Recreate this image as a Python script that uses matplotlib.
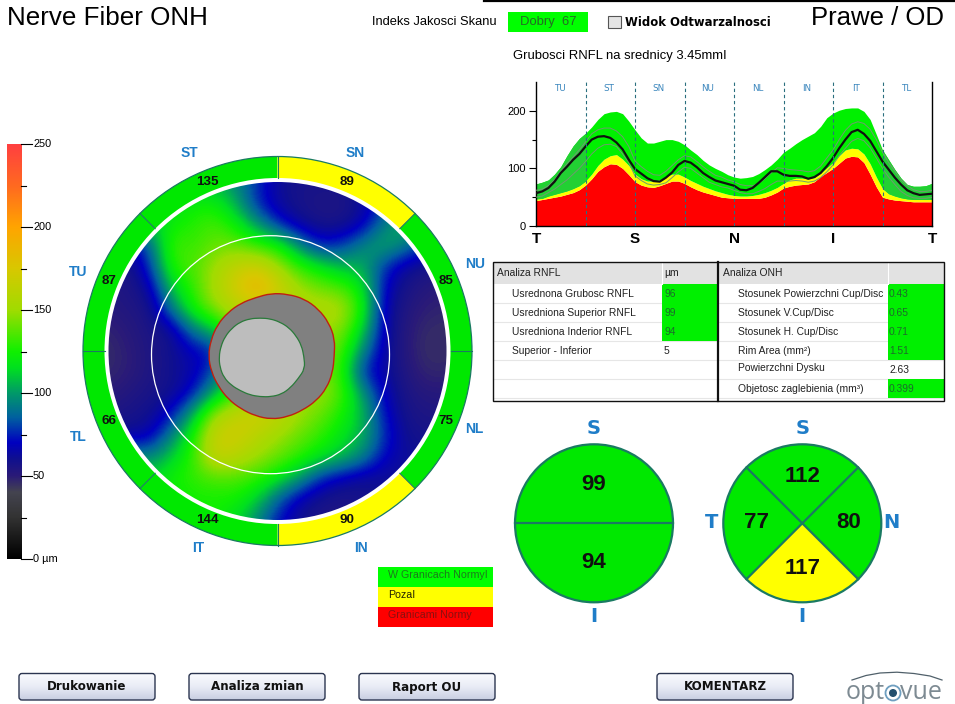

import numpy as np
import matplotlib
matplotlib.use("Agg")
import matplotlib.pyplot as plt
from matplotlib.colors import LinearSegmentedColormap
from matplotlib.patches import Rectangle, Circle, Wedge, FancyBboxPatch, PathPatch
from matplotlib.path import Path

# ---------- data ----------
sector_names = ["TU", "ST", "SN", "NU", "NL", "IN", "IT", "TL"]
sector_values = [87, 135, 89, 85, 75, 90, 144, 66]
sector_status = ["g", "g", "y", "g", "g", "y", "g", "g"]
outer_labels = {"ST": (189, 153), "SN": (355, 153), "TU": (78, 272), "NU": (475, 264),
                "TL": (78, 437), "NL": (474, 429), "IT": (198, 548), "IN": (361, 548)}

red_top = [44,46,48,50,52,55,58,63,71,82,95,103,108,107,100,89,77,71,68,67,70,74,78,78,74,68,63,59,56,53,50,49,48,48,48,48,48,50,54,59,66,69,71,72,73,77,86,93,100,109,118,121,120,110,90,68,50,47,45,44,43,42,42,42,42]
yellow_top = [47,48,52,55,58,61,65,70,78,90,105,116,122,124,116,105,90,82,78,78,80,86,90,90,85,79,74,69,65,61,58,55,53,52,52,53,55,58,62,67,74,80,83,83,82,84,92,101,110,122,132,135,134,125,108,85,65,56,52,49,47,46,46,46,46]
green_top = [73,76,80,90,103,122,139,152,161,172,185,195,198,199,195,182,167,153,144,144,147,150,150,147,141,132,124,114,106,100,95,89,85,83,84,86,91,98,106,116,128,135,143,150,156,162,173,188,196,201,204,205,205,199,185,159,132,115,98,83,72,69,69,70,74]
patient = [57,60,66,77,92,103,115,125,138,150,155,156,153,145,133,115,99,91,83,78,77,84,93,106,113,110,102,92,85,79,76,73,70,63,62,66,75,85,95,95,89,87,87,86,82,85,92,104,118,135,150,163,167,160,148,130,112,98,84,72,62,57,54,55,56]
upper_rep = [62,64,70,80,95,108,120,132,146,160,167,170,170,165,155,138,113,103,95,89,88,95,105,115,122,120,112,103,95,88,85,80,77,72,70,70,74,82,92,101,100,98,97,96,94,96,104,118,132,150,166,177,181,178,168,150,128,110,95,80,70,63,60,60,62]
lower_rep = [50,52,58,64,72,80,90,100,112,125,135,141,142,138,125,110,87,79,73,71,72,75,84,94,102,100,92,84,76,72,68,66,62,58,56,56,60,65,72,78,78,78,79,78,76,78,84,94,106,122,135,147,152,148,136,118,100,85,72,60,53,49,48,48,50]
tsnit_labels = ["T", "S", "N", "I", "T"]

thickness_map = [
 [100,100,100,100,105,105, 95, 78, 62, 58, 58, 58, 62, 72, 92, 92, 92],
 [115,115,115,115,122,122,105, 75, 62, 57, 55, 55, 62, 78,100,100,100],
 [115,115,110,122,128,135,122,100, 75, 62, 57, 57, 65, 92,105,100, 95],
 [ 85, 62, 88,135,130,140,140,130,125, 95, 72, 78, 95,105, 95, 75, 66],
 [ 56, 56, 78,130,135,150,165,170,150,130,118,105,105, 78, 62, 58, 56],
 [ 54, 55, 64,112,130,155,172,195,172,150,140,135,118, 70, 57, 52, 50],
 [ 52, 54, 57, 92,125,145,160,160,160,158,158,155,125, 66, 54, 49, 48],
 [ 48, 52, 56, 60, 92,108,140,150,150,150,150,145,112, 66, 52, 46, 46],
 [ 46, 50, 55, 60, 68, 72,120,140,145,145,145,135, 95, 64, 52, 45, 46],
 [ 47, 50, 55, 60, 65, 82,120,140,145,145,145,130, 75, 64, 54, 47, 48],
 [ 50, 54, 57, 60, 72,105,130,150,150,150,150,135,100, 68, 56, 52, 52],
 [ 55, 57, 60, 72,105,150,165,172,165,150,140,125,108, 72, 58, 55, 55],
 [ 62, 62, 66, 95,125,168,172,160,150,140,130,118,105, 78, 60, 58, 58],
 [105,100, 95,112,130,168,160,150,140,130,118,108, 95, 70, 62, 62, 62],
 [115,115,115,125,130,135,135,130,118,100, 75, 66, 60, 60, 62, 62, 62],
 [115,115,115,120,125,125,125,112, 85, 65, 58, 55, 58, 62, 62, 62, 62],
 [115,115,115,120,125,125,115, 95, 72, 60, 55, 55, 58, 62, 62, 62, 62],
]
# contours: radius every 15 degrees, clockwise from top
disc_radius = [62.7, 64, 66, 66.5, 66.5, 65.7, 63, 63.5, 64, 63.5, 62.6, 63, 63.3, 62, 61, 61, 61, 62, 63, 62.5, 62.3, 61.5, 61, 60.5]
cup_radius = [38.7, 39.3, 40, 41, 41.7, 43, 44, 46.5, 44, 43.5, 43.3, 41.5, 40, 39.5, 39.3, 40.5, 41.7, 41.5, 41, 40.5, 40.3, 40, 40, 39.3]

rnfl_rows = [("Usrednona Grubosc RNFL", "96", True), ("Usredniona Superior RNFL", "99", True),
             ("Usredniona Inderior RNFL", "94", True), ("Superior - Inferior", "5", False)]
onh_rows = [("Stosunek Powierzchni Cup/Disc", "0.43", True), ("Stosunek V.Cup/Disc", "0.65", True),
            ("Stosunek H. Cup/Disc", "0.71", True), ("Rim Area (mm\u00b2)", "1.51", True),
            ("Powierzchni Dysku", "2.63", False), ("Objetosc zaglebienia (mm\u00b3)", "0.399", True)]
hemi_values = [99, 94]
quad_values = {"S": 112, "T": 77, "N": 80, "I": 117}
legend_items = [("W Granicach NormyI", "#00ff00", "#1d7a1d"), ("PozaI", "#ffff00", "#222200"), ("Granicami Normy", "#ff0000", "#8a1010")]
buttons = [("Drukowanie", 18, 138), ("Analiza zmian", 188, 138), ("Raport OU", 358, 138), ("KOMENTARZ", 656, 138)]

# ---------- style ----------
W, H = 955, 704
GREEN, YELLOW, RED = "#00e800", "#ffff00", "#ff0000"
LINE = "#1a7a62"
BLUE = "#1f7dc8"
UI = "Liberation Sans"
cmap = LinearSegmentedColormap.from_list("rnfl", [
    (0/250, "#000000"), (25/250, "#333333"), (40/250, "#444450"), (50/250, "#2a1a78"),
    (60/250, "#10108f"), (70/250, "#0000c0"), (85/250, "#0060a0"), (100/250, "#009a68"),
    (115/250, "#00e020"), (125/250, "#10f000"), (150/250, "#a0dc00"), (175/250, "#d8c800"),
    (200/250, "#ffa500"), (225/250, "#ff6a20"), (250/250, "#ff4040")])

fig = plt.figure(figsize=(W / 100, H / 100), dpi=100, facecolor="white")
ax = fig.add_axes([0, 0, 1, 1])
ax.set_xlim(0, W)
ax.set_ylim(H, 0)
ax.axis("off")

def T(x, y, s, size=8, color="black", weight="normal", ha="left", va="center", family=UI, z=20):
    return ax.text(x, y, s, fontsize=size, color=color, fontweight=weight, ha=ha, va=va, family=family, zorder=z)

def R(x0, y0, x1, y1, fc, ec="none", lw=0, z=2):
    ax.add_patch(Rectangle((x0, y0), x1 - x0, y1 - y0, facecolor=fc, edgecolor=ec, linewidth=lw, zorder=z))

def smooth_closed(pts):
    mids = (pts + np.roll(pts, -1, axis=0)) / 2
    verts, codes = [mids[-1]], [Path.MOVETO]
    for p, m in zip(pts, mids):
        verts += [p, m]
        codes += [Path.CURVE3, Path.CURVE3]
    return Path(np.array(verts), codes)

# ---------- header ----------
T(7, 18, "Nerve Fiber ONH", 18.7)
T(944, 18, "Prawe / OD", 18.5, ha="right")
ax.plot([484, W], [0.8, 0.8], color="black", lw=1.6, zorder=5)
T(372, 22, "Indeks Jakosci Skanu", 9.3)
R(508, 12, 588, 32, "#00ff00")
T(548, 22, "Dobry  67", 9.4, color="#256b25", ha="center")
R(608, 15.5, 621, 28, "#e4e4e4", "#555555", 0.8)
T(625, 22, "Widok Odtwarzalnosci", 8.4, weight="bold", family="DejaVu Sans")
T(513, 56, "Grubosci RNFL na srednicy 3.45mmI", 9.4)

# ---------- colour bar ----------
ax.imshow(np.linspace(250, 0, 256).reshape(-1, 1), cmap=cmap, vmin=0, vmax=250, aspect="auto",
          extent=(7, 21, 559, 144), zorder=2)
for v in range(0, 251, 25):
    yy = 559 - v * 415 / 250
    ax.plot([21, 32 if v % 50 == 0 else 26], [yy, yy], color="black", lw=0.8, zorder=3)
    if v % 50 == 0:
        T(33, yy, "0 \u00b5m" if v == 0 else str(v), 7.9)

# ---------- thickness map ----------
cx, cy = 277.5, 351.0
Rout, Rin, Rmap = 194.5, 173.0, 169.0
cell = 2 * Rmap / 16
im = ax.imshow(np.array(thickness_map), cmap=cmap, vmin=0, vmax=250, aspect="auto", interpolation="bicubic",
               extent=(cx - Rmap - cell / 2, cx + Rmap + cell / 2, cy + Rmap + cell / 2, cy - Rmap - cell / 2), zorder=3)
clip = Circle((cx, cy), Rmap, transform=ax.transData)
im.set_clip_path(clip)
ax.set_xlim(0, W)
ax.set_ylim(H, 0)

# ring (clock angles clockwise from the top, first sector TU starts at 270 deg)
for i, (name, val, st) in enumerate(zip(sector_names, sector_values, sector_status)):
    a0 = 270 + 45 * i
    ax.add_patch(Wedge((cx, cy), Rout, a0 - 90, a0 - 45, width=Rout - Rin,
                       facecolor=GREEN if st == "g" else YELLOW, edgecolor="none", zorder=4))
    am = np.deg2rad(a0 + 22.5)
    T(cx + 182.5 * np.sin(am), cy - 182.5 * np.cos(am), str(val), 9.6, weight="bold", ha="center", color="#101010", z=8)
    ar = np.deg2rad(a0)
    ax.plot([cx + Rin * np.sin(ar), cx + Rout * np.sin(ar)], [cy - Rin * np.cos(ar), cy - Rout * np.cos(ar)],
            color=LINE, lw=0.8, zorder=5)
ax.add_patch(Circle((cx, cy), Rout, fill=False, edgecolor=LINE, lw=0.9, zorder=5))
for name, (lx, ly) in outer_labels.items():
    T(lx, ly, name, 10, color=BLUE, ha="center", weight="bold")

# scan circle, disc and cup
ax.add_patch(Circle((270.5, 354.7), 119, fill=False, edgecolor="white", lw=0.9, zorder=6))
ang = np.deg2rad(np.arange(0, 360, 15))
disc = np.column_stack([271.3 + np.array(disc_radius) * np.sin(ang), 356.0 - np.array(disc_radius) * np.cos(ang)])
cup = np.column_stack([260.0 + np.array(cup_radius) * np.sin(ang), 356.7 - np.array(cup_radius) * np.cos(ang)])
ax.add_patch(PathPatch(smooth_closed(disc), facecolor="#808080", edgecolor="#c02010", lw=1.0, zorder=7))
ax.add_patch(PathPatch(smooth_closed(cup), facecolor="#bdbdbd", edgecolor="#2a7a3a", lw=0.9, zorder=8))

# ---------- TSNIT chart ----------
chart = fig.add_axes([536 / W, (H - 226) / H, 396 / W, 144 / H])
xs = np.arange(len(patient))
chart.fill_between(xs, 0, red_top, color=RED, lw=0, zorder=2)
chart.fill_between(xs, red_top, yellow_top, color=YELLOW, lw=0, zorder=2)
chart.fill_between(xs, yellow_top, green_top, color="#00f000", lw=0, zorder=2)
chart.fill_between(xs[:9], yellow_top[:9], green_top[:9], color="#22d033", lw=0, zorder=2)
chart.fill_between(xs[56:], yellow_top[56:], green_top[56:], color="#22d033", lw=0, zorder=2)
chart.plot(xs, upper_rep, color="#6f9a6f", lw=0.7, zorder=3)
chart.plot(xs, lower_rep, color="#6f9a6f", lw=0.7, zorder=3)
chart.plot(xs, patient, color="#101010", lw=1.6, zorder=4)
for b in range(8, 64, 8):
    chart.axvline(b, color="#2a6f7f", lw=0.8, ls=(0, (3, 2.5)), zorder=5)
for i, name in enumerate(sector_names):
    chart.text(8 * i + 3.8, 238, name, fontsize=6.3, color="#3a86bd", ha="center", va="center", family="DejaVu Sans")
chart.set_xlim(0, 64)
chart.set_ylim(0, 250)
chart.set_yticks([0, 100, 200])
chart.set_yticks([50, 150], minor=True)
chart.set_xticks(range(0, 65, 16))
chart.set_xticklabels(tsnit_labels, fontsize=11, fontweight="bold", family=UI)
chart.tick_params(axis="x", length=0, pad=4)
chart.tick_params(axis="y", which="major", length=5, width=0.8, labelsize=8, pad=2.5)
chart.tick_params(axis="y", which="minor", length=3, width=0.8)
chart.spines["top"].set_visible(False)
for s in ("left", "right", "bottom"):
    chart.spines[s].set_linewidth(1.0)
for lab in chart.get_yticklabels():
    lab.set_family(UI)

# ---------- tables ----------
top, bottom, head = 262.3, 401.0, 284.3
rowh = 19.0
lx0, lmid, lsplit = 493.3, 662.3, 718.0
rsplit2, rx1 = 887.7, 944.0
TS = 7.4
R(lx0, top, rx1, head, "#e2e2e2", z=1)
for j in range(1, 7):
    ax.plot([lx0, rx1], [head + j * rowh] * 2, color="#e6e6e6", lw=0.8, zorder=1.5)
for j, (lab, val, g) in enumerate(rnfl_rows):
    yy = head + rowh * (j + 0.5)
    if g:
        R(lmid, head + j * rowh, lsplit, head + (j + 1) * rowh, "#00f000")
    T(511.7, yy, lab, TS, color="#222222")
    T(664, yy, val, TS, color="#1d6b2c" if g else "#222222")
for j, (lab, val, g) in enumerate(onh_rows):
    yy = head + rowh * (j + 0.5)
    if g:
        R(rsplit2, head + j * rowh, rx1, head + (j + 1) * rowh, "#00f000")
    T(737.7, yy - (2 if lab.startswith("Powierzchni") else 0), lab, TS, color="#222222")
    T(889, yy, val, TS, color="#1d6b2c" if g else "#222222")
T(497, 273.3, "Analiza RNFL", TS, color="#222222")
T(664, 273.3, "\u00b5m", TS, color="#222222")
T(722.5, 273.3, "Analiza ONH", TS, color="#222222")
ax.plot([lmid, lmid], [top, head], color="white", lw=0.8, zorder=3)
ax.plot([rsplit2, rsplit2], [top, head], color="white", lw=0.8, zorder=3)
ax.add_patch(Rectangle((lx0, top), rx1 - lx0, bottom - top, fill=False, edgecolor="#111111", lw=1.0, zorder=4))
ax.plot([lsplit, lsplit], [top, bottom], color="#111111", lw=1.6, zorder=4)

# ---------- pie sectors ----------
def label_circle(x, y, r=79):
    ax.add_patch(Circle((x, y), r, fill=False, edgecolor=LINE, lw=1.6, zorder=6))

c1, c2, cyy = 594.0, 802.3, 523.3
ax.add_patch(Circle((c1, cyy), 79, facecolor=GREEN, edgecolor="none", zorder=4))
ax.plot([c1 - 79, c1 + 79], [cyy, cyy], color=LINE, lw=1.6, zorder=6)
label_circle(c1, cyy)
BIG = 16
T(c1, 484, str(hemi_values[0]), BIG, weight="bold", ha="center", color="#101010")
T(c1, 562, str(hemi_values[1]), BIG, weight="bold", ha="center", color="#101010")
ax.add_patch(Circle((c2, cyy), 79, facecolor=GREEN, edgecolor="none", zorder=4))
ax.add_patch(Wedge((c2, cyy), 79, 45, 135, facecolor=YELLOW, edgecolor="none", zorder=5))
for sgn in (1, -1):
    d = 79 * np.sqrt(0.5)
    ax.plot([c2 - d, c2 + d], [cyy - sgn * d, cyy + sgn * d], color=LINE, lw=1.6, zorder=6)
label_circle(c2, cyy)
T(c2, 476, str(quad_values["S"]), BIG, weight="bold", ha="center", color="#101010")
T(756, 523, str(quad_values["T"]), BIG, weight="bold", ha="center", color="#101010")
T(849, 523, str(quad_values["N"]), BIG, weight="bold", ha="center", color="#101010")
T(c2, 569, str(quad_values["I"]), BIG, weight="bold", ha="center", color="#101010")
for lx, ly, s in [(c1, 428, "S"), (c1, 617, "I"), (c2, 428, "S"), (c2, 617, "I"), (712, 523, "T"), (891, 523, "N")]:
    T(lx, ly, s, 14, color=BLUE, weight="bold", ha="center", family="DejaVu Sans")

# ---------- legend ----------
for i, (lab, col, tc) in enumerate(legend_items):
    R(378, 566.7 + 20 * i, 492.7, 586.7 + 20 * i, col)
    T(388, 574.5 + 20 * i, lab, 7.7, color=tc)

# ---------- buttons ----------
grad = np.linspace(0, 1, 64).reshape(-1, 1)
btn_cmap = LinearSegmentedColormap.from_list("b", ["#fbfcff", "#e8ebf5", "#c6cce0"])
for lab, x0, w in buttons:
    box = FancyBboxPatch((x0 + 1, 673.5), w - 2, 26.5, boxstyle="round,pad=0,rounding_size=3",
                         facecolor="none", edgecolor="#2b3550", lw=1.0, zorder=6)
    ax.add_patch(box)
    gi = ax.imshow(grad, cmap=btn_cmap, aspect="auto", extent=(x0, x0 + w, 701, 673), zorder=5)
    gi.set_clip_path(box)
    T(x0 + w / 2, 687, lab, 8.6, weight="bold", ha="center", family="DejaVu Sans", color="#111111")
ax.set_xlim(0, W)
ax.set_ylim(H, 0)

# ---------- logo ----------
T(846, 692.5, "opt", 18, color="#7d8a92", family="Open Sans")
T(900, 692.5, "vue", 18, color="#7d8a92", family="Open Sans")
ax.add_patch(Circle((893, 693), 7.5, fill=False, edgecolor="#6f9fc0", lw=1.3, zorder=10))
ax.add_patch(Circle((893, 693), 4.0, facecolor="#24506e", edgecolor="none", zorder=10))
arc_x = np.array([852, 866, 880, 897, 914, 930, 942])
arc_y = np.array([680, 675.5, 673, 672.2, 673.5, 676, 680])
ax.plot(arc_x, arc_y, color="#50606a", lw=0.9, zorder=10)

fig.savefig("out.png", dpi=100)
